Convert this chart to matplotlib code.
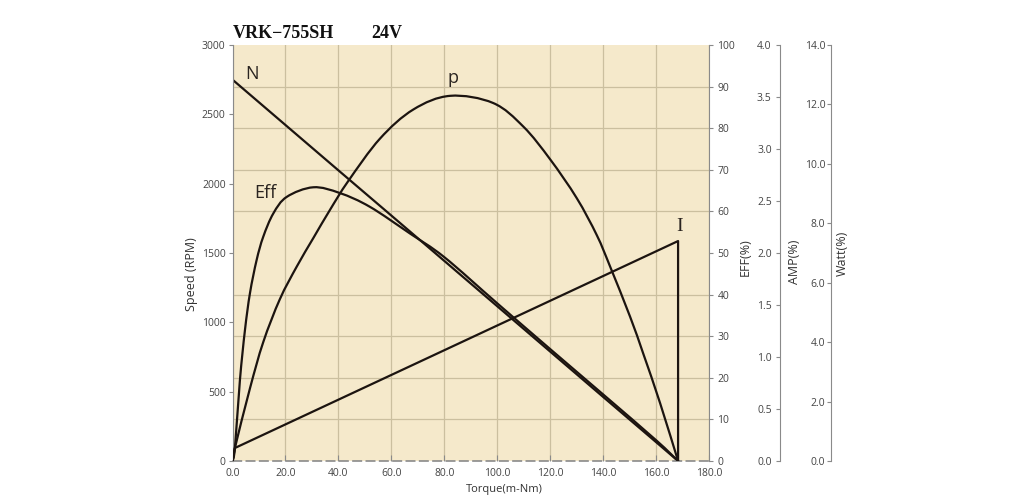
import numpy as np
import matplotlib
matplotlib.use("Agg")
import matplotlib.pyplot as plt
from matplotlib.path import Path
from matplotlib.patches import PathPatch
from matplotlib.ticker import FormatStrFormatter, MultipleLocator

# torque (m-Nm) / speed (RPM)
torque_n = [0, 20, 40, 60, 80, 100, 120, 140, 160, 168.3]
speed = [2750, 2423, 2096, 1770, 1443, 1116, 789, 462, 136, 0]

# efficiency (%)
torque_eff = [0, 0.9, 2.8, 4.7, 6.6, 9.1, 11.6, 15.4, 20.5, 30.5, 40.6,
              51.9, 67.0, 80, 100, 120, 140, 160, 168.3]
eff = [0, 3.1, 19.5, 31.5, 40.4, 48.3, 53.9, 59.5, 63.5, 65.8, 64.4,
       61.1, 54.7, 49.0, 37.9, 26.9, 16.0, 5.0, 0]

# output power (W)
torque_p = [0, 0.9, 6.6, 11.6, 17.9, 24.3, 30.5, 36.8, 43.7, 55.7, 68.3,
            82.2, 98.4, 109.9, 120, 130, 137.6, 142.6, 150.2, 155.2, 161.5, 168.3]
watt = [0, 0.44, 2.45, 4.0, 5.45, 6.55, 7.5, 8.45, 9.42, 10.85, 11.83,
        12.29, 12.05, 11.25, 10.15, 8.85, 7.6, 6.55, 4.85, 3.6, 1.95, 0]

# current (A)
torque_i = [0, 0.9, 168.3, 168.3]
amp = [0, 0.125, 2.115, 0]

bg = "#f5e9cb"
grid_c = "#cbbf9f"
line_c = "#1c1410"
spine_c = "#8a8a8a"
txt_c = "#444444"

plt.rcParams["font.family"] = ["Open Sans", "DejaVu Sans"]


def smooth_curve(axis, xs, ys):
    # Catmull-Rom through the read points, drawn as cubic Bezier segments
    pts = np.column_stack([xs, ys]).astype(float)
    verts = [pts[0]]
    codes = [Path.MOVETO]
    n = len(pts)
    for i in range(n - 1):
        p0 = pts[i - 1] if i > 0 else pts[i]
        p1, p2 = pts[i], pts[i + 1]
        p3 = pts[i + 2] if i + 2 < n else pts[i + 1]
        verts += [p1 + (p2 - p0) / 6, p2 - (p3 - p1) / 6, p2]
        codes += [Path.CURVE4] * 3
    axis.add_patch(PathPatch(Path(verts, codes), fill=False, edgecolor=line_c,
                             lw=1.6, joinstyle="round", capstyle="round"))


fig = plt.figure(figsize=(10.33, 5.03), dpi=100)
ax = fig.add_axes([0.2251, 0.0835, 0.4613, 0.8270])
ax.set_facecolor(bg)

ax.set_xlim(0, 180)
ax.set_ylim(0, 3000)
ax.xaxis.set_major_locator(MultipleLocator(20))
ax.xaxis.set_major_formatter(FormatStrFormatter("%.1f"))
ax.yaxis.set_major_locator(MultipleLocator(500))
ax.yaxis.set_minor_locator(MultipleLocator(300))
ax.set_axisbelow(True)
ax.grid(True, axis="x", which="major", color=grid_c, lw=0.9)
ax.grid(True, axis="y", which="minor", color=grid_c, lw=0.9)
ax.tick_params(axis="y", which="minor", length=0)
ax.tick_params(axis="y", which="major", direction="out", length=3, width=0.8,
               color=spine_c, labelsize=7.5, labelcolor=txt_c, pad=2)
ax.tick_params(axis="x", direction="in", length=4, width=0.8, color=spine_c,
               labelsize=7.5, labelcolor=txt_c, pad=5)

for s in ["top", "right"]:
    ax.spines[s].set_visible(False)
ax.spines["left"].set_color(spine_c)
ax.spines["left"].set_linewidth(0.8)
ax.spines["bottom"].set_color(spine_c)
ax.spines["bottom"].set_linewidth(1.2)
ax.spines["bottom"].set_linestyle((0, (5, 3)))

ax.plot(torque_n, speed, color=line_c, lw=1.6)

ax.set_xlabel("Torque(m-Nm)", fontsize=8, color="#333333")
ax.xaxis.set_label_coords(0.571, -0.055)
ax.text(-0.087, 0.45, "Speed (RPM)", transform=ax.transAxes, rotation=90,
        ha="center", va="center", fontsize=9, color="#333333")

# efficiency axis
ax_eff = ax.twinx()
ax_eff.set_ylim(0, 100)
ax_eff.yaxis.set_major_locator(MultipleLocator(10))
for s in ax_eff.spines.values():
    s.set_visible(False)
ax_eff.spines["right"].set_visible(True)
ax_eff.spines["right"].set_color(spine_c)
ax_eff.spines["right"].set_linewidth(0.8)
ax_eff.tick_params(axis="y", direction="out", length=3, width=0.8, color=spine_c,
                   labelsize=7.5, labelcolor=txt_c, pad=3)
smooth_curve(ax_eff, torque_eff, eff)
ax_eff.text(1.075, 0.49, "EFF(%)", transform=ax_eff.transAxes, rotation=90,
            ha="center", va="center", fontsize=9, color="#333333")

# current axis
ax_amp = ax.twinx()
ax_amp.set_ylim(0, 4)
ax_amp.yaxis.set_major_locator(MultipleLocator(0.5))
ax_amp.yaxis.set_major_formatter(FormatStrFormatter("%.1f"))
for s in ax_amp.spines.values():
    s.set_visible(False)
ax_amp.spines["left"].set_visible(True)
ax_amp.spines["left"].set_position(("axes", 1.149))
ax_amp.spines["left"].set_color(spine_c)
ax_amp.spines["left"].set_linewidth(0.8)
ax_amp.yaxis.set_ticks_position("left")
ax_amp.tick_params(axis="y", direction="out", length=3, width=0.8, color=spine_c,
                   labelsize=7.5, labelcolor=txt_c, pad=3)
ax_amp.plot(torque_i, amp, color=line_c, lw=1.6)
ax_amp.text(1.180, 0.48, "AMP(%)", transform=ax_amp.transAxes, rotation=90,
            ha="center", va="center", fontsize=9, color="#333333")

# power axis
ax_w = ax.twinx()
ax_w.set_ylim(0, 14)
ax_w.yaxis.set_major_locator(MultipleLocator(2))
ax_w.yaxis.set_major_formatter(FormatStrFormatter("%.1f"))
for s in ax_w.spines.values():
    s.set_visible(False)
ax_w.spines["left"].set_visible(True)
ax_w.spines["left"].set_position(("axes", 1.256))
ax_w.spines["left"].set_color(spine_c)
ax_w.spines["left"].set_linewidth(0.8)
ax_w.yaxis.set_ticks_position("left")
ax_w.tick_params(axis="y", direction="out", length=3, width=0.8, color=spine_c,
                 labelsize=7.5, labelcolor=txt_c, pad=1)
smooth_curve(ax_w, torque_p, watt)
ax_w.text(1.279, 0.50, "Watt(%)", transform=ax_w.transAxes, rotation=90,
          ha="center", va="center", fontsize=9, color="#333333")

# curve names (placed in speed-axis units)
ax.text(7.4, 2791, "N", fontsize=13, color="#2a2420", ha="center", va="center")
ax.text(83.3, 2762, "p", fontsize=13, color="#2a2420", ha="center", va="center")
ax.text(12.3, 1933, "Eff", fontsize=13, color="#2a2420", ha="center", va="center")
ax.text(168.7, 1688, "I", fontsize=14, color="#2a2420", ha="center", va="center",
        family=["Liberation Serif", "DejaVu Serif"])

# title
fig.text(233 / 1033, 1 - 38 / 503, "VRK\u2212755SH", fontsize=13, fontweight="bold",
         family=["Liberation Serif", "DejaVu Serif"], ha="left", va="baseline", color="#111111")
fig.text(371 / 1033, 1 - 38 / 503, "24V", fontsize=13, fontweight="bold",
         family=["Liberation Serif", "DejaVu Serif"], ha="left", va="baseline", color="#111111")

fig.savefig("out.png", dpi=100)
